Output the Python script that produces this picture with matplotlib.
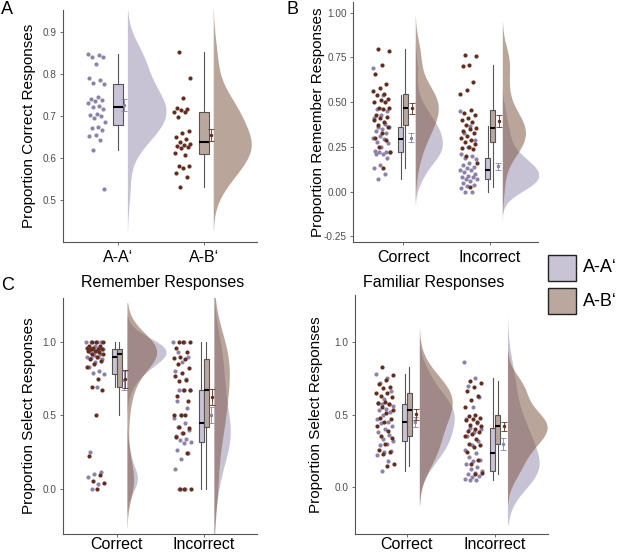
import numpy as np
import matplotlib
matplotlib.use("Agg")
import matplotlib.pyplot as plt
from matplotlib.patches import Rectangle

plt.rcParams['font.family'] = ['Liberation Sans', 'DejaVu Sans']

groups = ["A-A\u2018", "A-B\u2018"]
memory = ["Correct", "Incorrect"]

# panel A - proportion correct responses
corr_aa = [0.848, 0.846, 0.842, 0.841, 0.824, 0.791, 0.787, 0.778, 0.776, 0.745,
           0.742, 0.738, 0.735, 0.731, 0.724, 0.721, 0.716, 0.705, 0.703, 0.701,
           0.695, 0.686, 0.675, 0.672, 0.668, 0.655, 0.652, 0.644, 0.619, 0.526]
corr_ab = [0.852, 0.790, 0.744, 0.719, 0.716, 0.715, 0.711, 0.709, 0.697, 0.665,
           0.659, 0.651, 0.645, 0.639, 0.633, 0.631, 0.629, 0.626, 0.623, 0.611,
           0.607, 0.581, 0.580, 0.576, 0.564, 0.554, 0.532]

# panel B - proportion remember responses
rem_aa_corr = [0.69, 0.54, 0.46, 0.45, 0.43, 0.41, 0.38, 0.363, 0.36, 0.35,
               0.34, 0.33, 0.31, 0.30, 0.294, 0.28, 0.27, 0.25, 0.23, 0.22,
               0.22, 0.22, 0.21, 0.21, 0.19, 0.15, 0.13, 0.10, 0.07]
rem_ab_corr = [0.80, 0.785, 0.71, 0.66, 0.60, 0.58, 0.56, 0.545, 0.54, 0.52,
               0.51, 0.50, 0.50, 0.47, 0.465, 0.46, 0.43, 0.42, 0.41, 0.40,
               0.39, 0.37, 0.36, 0.33, 0.30, 0.29, 0.25, 0.22, 0.13]
rem_aa_inc = [0.45, 0.365, 0.33, 0.29, 0.25, 0.21, 0.20, 0.19, 0.18, 0.16,
              0.15, 0.14, 0.13, 0.12, 0.12, 0.11, 0.10, 0.09, 0.08, 0.08,
              0.07, 0.07, 0.06, 0.05, 0.04, 0.03, 0.02, 0.0, 0.0]
rem_ab_inc = [0.764, 0.758, 0.707, 0.70, 0.614, 0.568, 0.546, 0.456, 0.44, 0.428,
              0.412, 0.40, 0.39, 0.37, 0.354, 0.35, 0.34, 0.33, 0.31, 0.30,
              0.29, 0.276, 0.265, 0.25, 0.245, 0.236, 0.20, 0.16, 0.028]

# panel C - select responses, remember
selr_aa_corr = [1.0, 1.0, 1.0, 1.0, 0.97, 0.96, 0.96, 0.95, 0.95, 0.94,
                0.93, 0.92, 0.91, 0.90, 0.90, 0.89, 0.88, 0.86, 0.83, 0.80,
                0.79, 0.78, 0.69, 0.25, 0.11, 0.10, 0.08, 0.03, 0.0]
selr_ab_corr = [1.0, 1.0, 1.0, 0.97, 0.97, 0.96, 0.96, 0.95, 0.95, 0.95,
                0.94, 0.94, 0.93, 0.92, 0.92, 0.90, 0.88, 0.87, 0.85, 0.83,
                0.75, 0.69, 0.67, 0.50, 0.22, 0.09, 0.05, 0.04, 0.0]
selr_aa_inc = [1.0, 1.0, 0.93, 0.90, 0.86, 0.80, 0.75, 0.67, 0.67, 0.67,
               0.60, 0.55, 0.50, 0.48, 0.45, 0.42, 0.40, 0.38, 0.36, 0.34,
               0.33, 0.32, 0.31, 0.26, 0.24, 0.20, 0.13, 0.0, 0.0]
selr_ab_inc = [1.0, 1.0, 1.0, 0.96, 0.93, 0.90, 0.89, 0.88, 0.85, 0.82,
               0.79, 0.77, 0.74, 0.73, 0.67, 0.67, 0.63, 0.60, 0.50, 0.50,
               0.50, 0.42, 0.41, 0.38, 0.35, 0.24, 0.0, 0.0, 0.0]

# panel D - select responses, familiar
self_aa_corr = [0.78, 0.75, 0.72, 0.66, 0.61, 0.58, 0.57, 0.57, 0.56, 0.54,
                0.53, 0.52, 0.50, 0.47, 0.45, 0.44, 0.42, 0.40, 0.38, 0.36,
                0.33, 0.32, 0.30, 0.29, 0.25, 0.24, 0.22, 0.18, 0.11]
self_ab_corr = [0.83, 0.77, 0.74, 0.71, 0.69, 0.68, 0.65, 0.65, 0.63, 0.62,
                0.59, 0.58, 0.57, 0.55, 0.53, 0.51, 0.48, 0.47, 0.45, 0.42,
                0.39, 0.35, 0.34, 0.30, 0.26, 0.24, 0.23, 0.16, 0.145]
self_aa_inc = [0.86, 0.75, 0.70, 0.62, 0.55, 0.47, 0.44, 0.41, 0.40, 0.38,
               0.35, 0.32, 0.29, 0.26, 0.235, 0.21, 0.19, 0.18, 0.16, 0.14,
               0.13, 0.115, 0.10, 0.09, 0.08, 0.07, 0.06, 0.05, 0.05]
self_ab_inc = [0.73, 0.72, 0.69, 0.66, 0.63, 0.60, 0.55, 0.50, 0.49, 0.48,
               0.47, 0.46, 0.45, 0.43, 0.42, 0.40, 0.39, 0.38, 0.37, 0.35,
               0.33, 0.30, 0.29, 0.28, 0.24, 0.19, 0.16, 0.10, 0.095]

vio_col = ["#9b90b4", "#825b49"]
box_col = ["#c9c3d6", "#bba79e"]
pt_col = ["#8c82aa", "#642d1e"]
line_col = "#555555"


def kde(vals, adjust=1.3):
    v = np.asarray(vals, dtype=float)
    n = len(v)
    iqr = np.percentile(v, 75) - np.percentile(v, 25)
    bw0 = 0.9 * min(v.std(ddof=1), iqr / 1.34) * n ** -0.2
    bw = bw0 * adjust
    grid = np.linspace(v.min() - 3 * bw0, v.max() + 3 * bw0, 400)
    dens = np.exp(-0.5 * ((grid[:, None] - v[None, :]) / bw) ** 2).sum(1)
    dens = dens / (n * bw * np.sqrt(2 * np.pi))
    return grid, dens


def raincloud(ax, sets, dodge, box_w, vio_off, err_off, vio_w=0.45):
    # sets: (category position, group index, values)
    kdes = [kde(v) for _, _, v in sets]
    dmax = max(d.max() for _, d in kdes)
    for (c, gi, v), (g, d) in zip(sets, kdes):
        x0 = c + vio_off
        ax.fill_betweenx(g, x0, x0 + d / dmax * vio_w, color=vio_col[gi],
                         alpha=0.55, lw=0, zorder=1)
    for (c, gi, v) in sets:
        n = len(v)
        jit = np.array([(i * 0.618034 + 0.31 * gi) % 1.0 for i in range(n)])
        xs = c - 0.25 + 0.1 * (2 * jit - 1)
        ax.scatter(xs, v, s=9, color=pt_col[gi], lw=0, zorder=2)
    for (c, gi, v) in sets:
        pos = c + (gi - 0.5) * 2 * dodge
        ax.boxplot(v, positions=[pos], widths=[box_w], patch_artist=True,
                   showfliers=False, showcaps=False, whis=1.5, manage_ticks=False,
                   boxprops=dict(facecolor=box_col[gi], edgecolor=line_col, lw=0.8),
                   whiskerprops=dict(color=line_col, lw=0.8),
                   medianprops=dict(color="black", lw=1.5), zorder=3)
    for (c, gi, v) in sets:
        v = np.asarray(v)
        se = v.std(ddof=1) / np.sqrt(len(v))
        ax.errorbar(c + err_off + (gi - 0.5) * 0.012, v.mean(), yerr=se, fmt="o",
                    ms=1.5, color=pt_col[gi], elinewidth=0.6, capsize=2,
                    capthick=0.6, zorder=4)


def style(ax, xlim, ylim, yticks, yfmt, labels, ylabel, lab_x, xpad=3):
    ax.set_xlim(*xlim)
    ax.set_ylim(*ylim)
    ax.set_xticks([1, 2])
    ax.set_xticklabels(labels, fontsize=11.5, color="black")
    ax.set_yticks(yticks)
    ax.set_yticklabels([yfmt.format(t) for t in yticks], fontsize=7.2, color="#4d4d4d")
    for s in ["top", "right"]:
        ax.spines[s].set_visible(False)
    for s in ["left", "bottom"]:
        ax.spines[s].set_color(line_col)
        ax.spines[s].set_linewidth(0.8)
    ax.tick_params(axis="both", colors=line_col, length=2.5, width=0.6, pad=2)
    ax.tick_params(axis="x", labelcolor="black", pad=xpad)
    ax.tick_params(axis="y", labelcolor="#4d4d4d")
    ax.set_ylabel(ylabel, fontsize=11)
    ax.yaxis.set_label_coords(lab_x, 0.5)


W, H = 617, 554
fig = plt.figure(figsize=(W / 100, H / 100), dpi=100)


def px_axes(l, t, r, b):
    return fig.add_axes([l / W, 1 - b / H, (r - l) / W, (b - t) / H])


axA = px_axes(63, 10, 257, 242)
axB = px_axes(353, 2, 538, 242)
axC = px_axes(63, 298, 257, 534)
axD = px_axes(355, 295, 548, 534)

# A
raincloud(axA, [(1, 0, corr_aa), (2, 1, corr_ab)], dodge=0.0, box_w=0.115,
          vio_off=0.11, err_off=0.075)
style(axA, (0.36, 2.62), (0.40, 0.953), [0.5, 0.6, 0.7, 0.8, 0.9], "{:.1f}",
      groups, "Proportion Correct Responses", -0.139)

# B
raincloud(axB, [(1, 0, rem_aa_corr), (1, 1, rem_ab_corr),
                (2, 0, rem_aa_inc), (2, 1, rem_ab_inc)],
          dodge=0.028, box_w=0.055, vio_off=0.14, err_off=0.10, vio_w=0.42)
style(axB, (0.425, 2.55), (-0.281, 1.06), [-0.25, 0.0, 0.25, 0.5, 0.75, 1.0], "{:.2f}",
      memory, "Proportion Remember Responses", -0.151)

# C
raincloud(axC, [(1, 0, selr_aa_corr), (1, 1, selr_ab_corr),
                (2, 0, selr_aa_inc), (2, 1, selr_ab_inc)],
          dodge=0.028, box_w=0.055, vio_off=0.115, err_off=0.085)
style(axC, (0.38, 2.61), (-0.31, 1.299), [0.0, 0.5, 1.0], "{:.1f}",
      memory, "Proportion Select Responses", -0.139, xpad=0)

# D
raincloud(axD, [(1, 0, self_aa_corr), (1, 1, self_ab_corr),
                (2, 0, self_aa_inc), (2, 1, self_ab_inc)],
          dodge=0.028, box_w=0.055, vio_off=0.14, err_off=0.10)
style(axD, (0.41, 2.6), (-0.32, 1.322), [0.0, 0.5, 1.0], "{:.1f}",
      memory, "Proportion Select Responses", -0.166, xpad=0)

# panel titles
fig.text(163 / W, 1 - 283 / H, "Remember Responses", fontsize=11.5, ha="center", va="center")
fig.text(434 / W, 1 - 283 / H, "Familiar Responses", fontsize=11.5, ha="center", va="center")

# panel letters
fig.text(1 / W, 1 - 10 / H, "A", fontsize=13, va="center", ha="left")
fig.text(287 / W, 1 - 10 / H, "B", fontsize=13, va="center", ha="left")
fig.text(1 / W, 1 - 285 / H, "C", fontsize=13, va="center", ha="left")

# legend
for i, (g, t) in enumerate(zip(groups, [255, 288])):
    fig.add_artist(Rectangle((548 / W, 1 - (t + 26) / H), 28 / W, 26 / H,
                             transform=fig.transFigure, facecolor=box_col[i],
                             edgecolor="#222222", lw=1))
    fig.text(583 / W, 1 - (t + 13) / H, g, fontsize=13, va="center", ha="left")

fig.savefig("out.png", dpi=100)
